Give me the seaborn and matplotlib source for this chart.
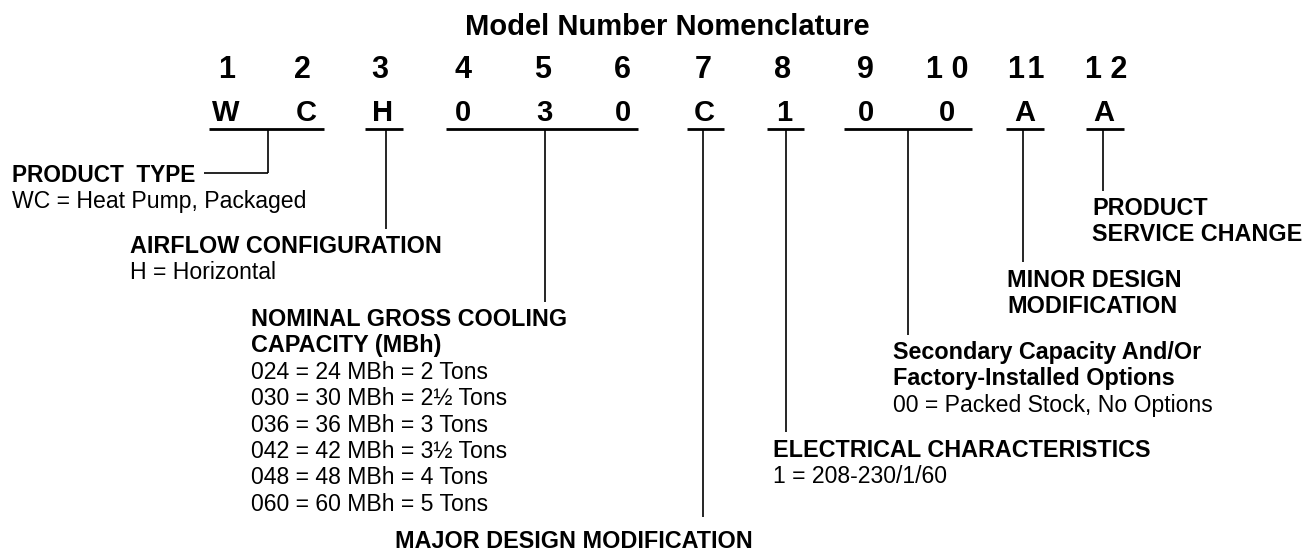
# Model number nomenclature diagram
import matplotlib
matplotlib.use("Agg")
import matplotlib.pyplot as plt
import seaborn as sns

# Data: digit positions, code characters and what each field means
digit_labels = ["1", "2", "3", "4", "5", "6", "7", "8", "9", "1 0", "11", "1 2"]
code_chars = ["W", "C", "H", "0", "3", "0", "C", "1", "0", "0", "A", "A"]

# which digit positions (first, last) each field covers
field_groups = [(0, 1), (2, 2), (3, 5), (6, 6), (7, 7), (8, 9), (10, 10), (11, 11)]
field_titles = [
    ["PRODUCT  TYPE"],
    ["AIRFLOW CONFIGURATION"],
    ["NOMINAL GROSS COOLING", "CAPACITY (MBh)"],
    ["MAJOR DESIGN MODIFICATION"],
    ["ELECTRICAL CHARACTERISTICS"],
    ["Secondary Capacity And/Or", "Factory-Installed Options"],
    ["MINOR DESIGN", "MODIFICATION"],
    ["PRODUCT", "SERVICE CHANGE"],
]
field_details = [
    ["WC = Heat Pump, Packaged"],
    ["H = Horizontal"],
    ["024 = 24 MBh = 2 Tons", "030 = 30 MBh = 2½ Tons", "036 = 36 MBh = 3 Tons",
     "042 = 42 MBh = 3½ Tons", "048 = 48 MBh = 4 Tons", "060 = 60 MBh = 5 Tons"],
    [],
    ["1 = 208-230/1/60"],
    ["00 = Packed Stock, No Options"],
    [],
    [],
]

# Layout (pixel coordinates, y down)
digit_x = [227, 302, 380, 463, 543, 622, 703, 783, 865, 947, 1026, 1106]
char_x = [226, 306, 383, 463, 544, 623, 704, 784, 866, 947, 1025, 1104]
underline_x0 = [209, 365, 446, 687, 767, 844, 1006, 1086]
underline_x1 = [324, 403, 638, 724, 804, 972, 1044, 1124]
connector_x = [268, 386, 545, 703, 786, 908, 1023, 1103]
connector_end = [173, 229, 302, 517, 432, 335, 262, 191]
label_x = [12, 130, 251, 395, 773, 893, 1007, 1092]
label_y = [182, 253, 326, 548, 457, 359, 287, 215]
line_step = 26.4
underline_y = 129

sns.set_theme(style="white")
plt.rcParams["font.family"] = ["Liberation Sans", "DejaVu Sans"]

fig = plt.figure(figsize=(13.1, 5.53), dpi=100)
ax = fig.add_axes([0, 0, 1, 1])
ax.set_xlim(0, 1310)
ax.set_ylim(553, 0)
ax.axis("off")

ax.text(667, 35, "Model Number Nomenclature", ha="center", va="baseline",
        fontsize=21, fontweight="bold", color="black")

for x, d in zip(digit_x, digit_labels):
    # the reference sets "11" with a little air between the ones
    if d == "11":
        d = "1\u200a1"
    ax.text(x, 78, d, ha="center", va="baseline", fontsize=22,
            fontweight="bold", color="black")
for x, c in zip(char_x, code_chars):
    ax.text(x, 121, c, ha="center", va="baseline", fontsize=21,
            fontweight="bold", color="black")

for i in range(len(field_groups)):
    # underline over the digits of this field
    ax.plot([underline_x0[i], underline_x1[i]], [underline_y, underline_y],
            color="black", lw=2.0, solid_capstyle="butt")
    # drop line to the description
    ax.plot([connector_x[i], connector_x[i]], [underline_y, connector_end[i]],
            color="black", lw=1.2, solid_capstyle="butt")

    y = label_y[i]
    for t in field_titles[i]:
        fs = 16.3 if i == 0 else 16.8
        ax.text(label_x[i], y, t, ha="left", va="baseline", fontsize=fs,
                fontweight="bold", color="black")
        y += line_step
    for t in field_details[i]:
        ax.text(label_x[i], y, t, ha="left", va="baseline", fontsize=16.6,
                color="black")
        y += line_step

# product type label sits beside its connector, so add the elbow
ax.plot([connector_x[0], 204], [connector_end[0], connector_end[0]],
        color="black", lw=1.2, solid_capstyle="butt")

fig.savefig("out.png", dpi=100, facecolor="white")
